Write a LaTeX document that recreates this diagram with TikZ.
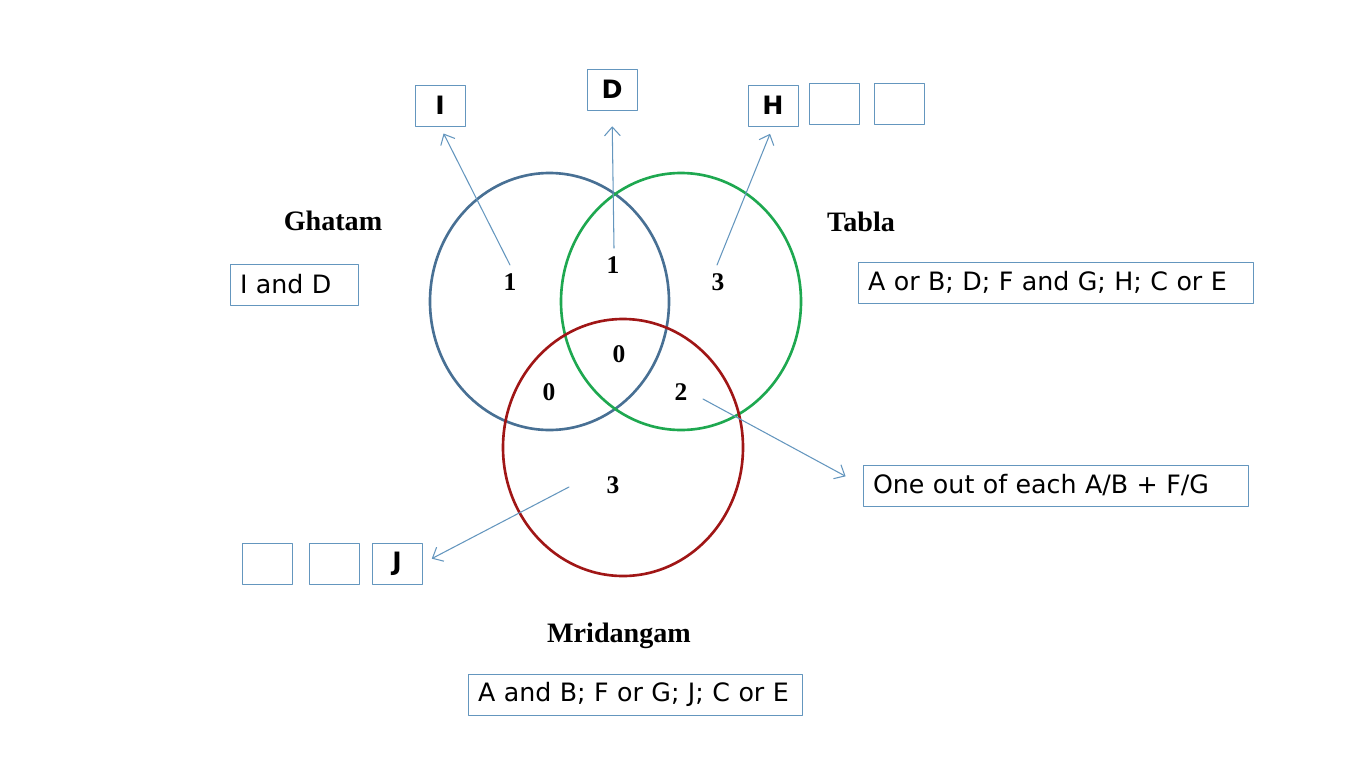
\documentclass[tikz,border=0pt]{standalone}
\usepackage{fontspec}
\setmainfont{Liberation Serif}
\newfontfamily\boxfont{DejaVu Sans}
\usetikzlibrary{arrows.meta,positioning}
\definecolor{ghatamblue}{RGB}{72,112,148}
\definecolor{tablagreen}{RGB}{30,168,80}
\definecolor{mridred}{RGB}{160,22,22}
\definecolor{boxblue}{RGB}{100,150,190}
\definecolor{arrowblue}{RGB}{100,150,190}
\tikzstyle{every path}=[line cap=round,line join=round]
\tikzstyle{set}=[line width=1.5pt]
\tikzstyle{count}=[font=\fontsize{14.5}{17}\selectfont\bfseries]
\tikzstyle{title}=[font=\fontsize{16}{19}\selectfont\bfseries]
\tikzstyle{letter}=[draw=boxblue,line width=0.5pt,minimum width=1cm,minimum height=0.82cm,inner sep=0pt,font=\boxfont\fontsize{14.4}{17}\selectfont\bfseries]
\tikzstyle{listbox}=[draw=boxblue,line width=0.5pt,minimum height=0.82cm,inner xsep=0.2cm,align=left,font=\boxfont\fontsize{14.4}{17}\selectfont]
\tikzstyle{pointer}=[draw=arrowblue,line width=0.6pt,-{Straight Barb[length=5pt,width=9pt]}]

\begin{document}
\begin{tikzpicture}[x=0.02cm,y=-0.02cm]
\useasboundingbox (0,0) rectangle (1366,768);
% circles
\draw[set,ghatamblue] (549.5,301.5) ellipse [x radius=119.5, y radius=128.5];
\draw[set,tablagreen] (681,301.5) ellipse [x radius=120, y radius=128.5];
\draw[set,mridred] (623,447.5) ellipse [x radius=120, y radius=128.5];
% titles
\node[title] (ghatam) at (333,221) {Ghatam};
\node[title] (tabla) at (861,222) {Tabla};
\node[title] (mridangam) at (619,636) {Mridangam};
% counts
\node[count] (gOnly) at (510,282) {1};
\node[count] (gt) at (613,265) {1};
\node[count] (tOnly) at (718,282) {3};
\node[count] (gtm) at (619,354) {0};
\node[count] (gm) at (549,392) {0};
\node[count] (tm) at (681,392) {2};
\node[count] (mOnly) at (613,485) {3};
% lists
\node[listbox,text width=2.16cm] (gList) at (294,284.5) {I and D};
\node[listbox,text width=7.5cm] (tList) at (1055.5,282.5) {A or B; D; F and G; H; C or E};
\node[listbox,text width=7.3cm] (tmList) at (1055.5,485.5) {One out of each A/B + F/G};
\node[listbox,text width=6.28cm] (mList) at (635,694.5) {A and B; F or G; J; C or E};
% letter boxes
\node[letter] (nI) at (440,105.5) {I};
\node[letter] (nD) at (612,89.5) {D};
\node[letter] (nH) at (773,105.5) {H};
\node[letter,right=0.22cm of nH,yshift=0.04cm] (hA) {};
\node[letter,right=0.28cm of hA] (hB) {};
\node[letter] (nJ) at (397,563.5) {J};
\node[letter,left=0.24cm of nJ] (jA) {};
\node[letter,left=0.32cm of jA] (jB) {};
% arrows
\coordinate (fromI) at (510,265);
\coordinate (fromD) at (614,248);
\coordinate (fromH) at (717,265);
\coordinate (fromTM) at (703,399);
\coordinate (fromJ) at (569,487);
\draw[pointer,shorten >=4.5pt] (fromI) -- (nI.south);
\draw[pointer,shorten >=9pt] (fromD) -- (nD.south);
\draw[pointer,shorten >=4.5pt] (fromH) -- (nH.south);
\draw[pointer,shorten >=11pt] (fromTM) -- (tmList.west);
\draw[pointer,shorten >=6pt] (fromJ) -- (nJ.east);
\end{tikzpicture}
\end{document}
